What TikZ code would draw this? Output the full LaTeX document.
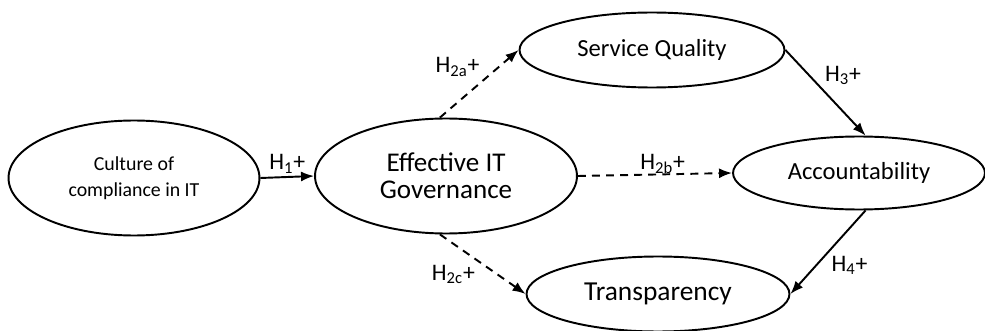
\documentclass[tikz,border=0pt]{standalone}
\usepackage{fontspec}
\setmainfont{Carlito}
\usetikzlibrary{arrows.meta,shapes.geometric}
\begin{document}
\begin{tikzpicture}[x=0.02cm,y=-0.02cm,line join=round,line width=1.1pt,>={Latex[length=2.6mm,width=2mm]},
	construct/.style={draw,ellipse,inner sep=0pt,align=center},
	hyp/.style={font=\fontsize{13.5}{15}\selectfont,inner sep=1.5pt},
	weak/.style={dash pattern=on 4.5pt off 3.5pt}]
	\useasboundingbox (0,0) rectangle (985,331);
	\node[construct,minimum width=5.02cm,minimum height=2.3cm,font=\fontsize{11.3}{14.8}\selectfont] (culture) at (134,178) {Culture of\\compliance in IT};
	\node[construct,minimum width=5.24cm,minimum height=2.3cm,font=\fontsize{15.4}{15.6}\selectfont] (gov) at (446,176) {Effective IT\\Governance};
	\node[construct,minimum width=5.3cm,minimum height=1.5cm,font=\fontsize{14}{16}\selectfont] (sq) at (652,50) {Service Quality};
	\node[construct,minimum width=5.04cm,minimum height=1.46cm,font=\fontsize{14}{16}\selectfont] (acc) at (859,173) {Accountability};
	\node[construct,minimum width=5.26cm,minimum height=1.5cm,font=\fontsize{15.6}{17}\selectfont] (trans) at (658,294) {Transparency};
	% paths
	\draw[->] (culture.east) -- (gov.west) node[hyp,midway,above] {H\textsubscript{1}+};
	\draw[->,weak] (gov.96) -- (sq.west) node[hyp,pos=0.55,above left] {H\textsubscript{2a}+};
	\draw[->,weak] (gov.east) -- (acc.west) node[hyp,pos=0.55,above,inner sep=0pt] {H\textsubscript{2b}+};
	\draw[->,weak] (gov.264) -- (trans.west) node[hyp,pos=0.45,below left] {H\textsubscript{2c}+};
	\draw[->] (sq.east) -- (acc.80) node[hyp,pos=0.45,above right] {H\textsubscript{3}+};
	\draw[->] (acc.280) -- (trans.east) node[hyp,pos=0.5,below right] {H\textsubscript{4}+};
\end{tikzpicture}
\end{document}
